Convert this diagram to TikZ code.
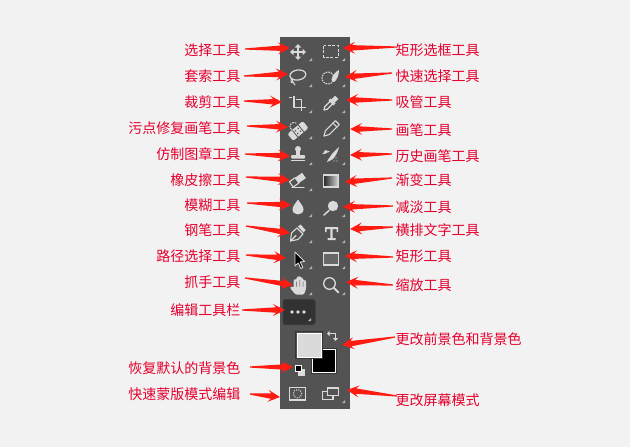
\documentclass[tikz,border=0pt]{standalone}
\usepackage{fontspec}
\newfontfamily\cjk{Noto Sans CJK SC}
\usetikzlibrary{calc}
\definecolor{pagebg}{HTML}{F2F2F2}
\definecolor{barbg}{HTML}{535353}
\definecolor{ico}{HTML}{DADADA}
\definecolor{labred}{HTML}{E5002D}
\definecolor{arrred}{HTML}{FF1A12}
\definecolor{cornertri}{HTML}{B4B4B4}
\tikzset{
  lab/.style={inner sep=0pt,text=labred,font=\cjk\fontsize{14}{14}\selectfont},
  labl/.style={lab,anchor=east},
  labr/.style={lab,anchor=west},
  arrowshape/.style={fill=arrred,draw=none},
  icl/.style={draw=ico,line width=1.2pt,line join=round,line cap=round,fill=none}
}
\newcommand{\conn}[3]{%
  \coordinate (#1-t) at (#2);\coordinate (#1-h) at (#3);
  \fill[arrowshape] ($(#1-t)!0.6pt!-90:(#1-h)$)
   -- ($(#1-h)!9pt!(#1-t)!2.7pt!90:(#1-t)$)
   -- ($(#1-h)!12pt!(#1-t)!6pt!90:(#1-t)$)
   -- (#1-h)
   -- ($(#1-h)!12pt!(#1-t)!6pt!-90:(#1-t)$)
   -- ($(#1-h)!9pt!(#1-t)!2.7pt!-90:(#1-t)$)
   -- ($(#1-t)!0.6pt!90:(#1-h)$)
   -- cycle;}
\begin{document}
\begin{tikzpicture}[x=1pt,y=-1pt]
\useasboundingbox (0,0) rectangle (630,447);
\fill[pagebg] (0,0) rectangle (630,447);
\fill[barbg] (280,37) rectangle (350,409);

% corner triangles
\foreach \yy in {58,84,110,136,162,188,214,240,266,292}{
  \fill[cornertri] (312,\yy) -- (312,\yy+3.2) -- (308.8,\yy+3.2) -- cycle;}
\foreach \yy in {58,84,110,136,162,214,240,266,292}{
  \fill[cornertri] (345,\yy) -- (345,\yy+3.2) -- (341.8,\yy+3.2) -- cycle;}

% move
\begin{scope}[shift={(298,52)}]
 \draw[icl,line width=1.4pt] (-6,0)--(6,0) (0,-6)--(0,6);
 \fill[ico] (-8,0)--(-4.5,-3.2)--(-4.5,3.2)--cycle (8,0)--(4.5,-3.2)--(4.5,3.2)--cycle
   (0,-8)--(-3.2,-4.5)--(3.2,-4.5)--cycle (0,8)--(-3.2,4.5)--(3.2,4.5)--cycle;
\end{scope}
% marquee
\draw[icl,line width=1.2pt,dash pattern=on 3pt off 1.7pt,line cap=butt] (323.5,45.5) rectangle (338.5,57.5);
% lasso
\begin{scope}[shift={(298,76)}]
 \draw[icl,rotate=8] (0,-1) ellipse [x radius=8pt,y radius=5pt];
 \draw[icl,line width=1pt] (-6,3) .. controls (-6,7) and (-3,7) .. (-3,9);
 \draw[icl,line width=1pt] (-6,2) .. controls (-8,5) and (-7,8) .. (-5,6);
\end{scope}
% quick select
\begin{scope}[shift={(331,77)}]
 \draw[icl,line width=1.1pt,dash pattern=on 1pt off 1.6pt] (-3,1) circle [radius=6pt];
 \fill[ico] (0.5,2.5) .. controls (1,-1) and (5,-6) .. (8,-7) .. controls (8,-2) and (6,3) .. (3,5) .. controls (1.5,5) and (0,4) .. (0.5,2.5) -- cycle;
\end{scope}
% crop
\draw[icl,line width=1.7pt,line cap=butt] (289,97.5) -- (291.5,97.5) (294,96) -- (294,107.5) -- (306,107.5) (301.5,111) -- (301.5,99.5) -- (296,99.5);
% eyedropper
\begin{scope}[shift={(331,103)},rotate=45]
 \draw[icl,line width=1.2pt] (-10,0) -- (-7,-1.8) -- (1,-1.8) -- (1,1.8) -- (-7,1.8) -- cycle;
 \fill[ico] (0,-3.5) rectangle (3,3.5);
 \fill[ico] (3,-2.3) rectangle (8,2.3);
\end{scope}
% healing
\begin{scope}[shift={(298,131)},rotate=40]
 \fill[ico] (-10,-4.5) [rounded corners=1.5pt] rectangle (10,4.5);
 \fill[barbg] (-4.4,-5) rectangle (-3.6,5) (3.6,-5) rectangle (4.4,5);
 \foreach \a in {-1.8,1.8}\foreach \b in {-1.8,1.8}\fill[barbg] (\a,\b) circle [radius=0.95pt];
\end{scope}
\draw[icl,line width=1.1pt,dash pattern=on 1pt off 1.6pt] (296,123) arc[start angle=60,end angle=250,radius=4pt];
% pencil
\begin{scope}[shift={(331,129)},rotate=45]
 \draw[icl,line width=1.1pt] (-10,0) -- (-5,-2.8) -- (9,-2.8) -- (9,2.8) -- (-5,2.8) -- cycle;
 \draw[icl,line width=1.1pt] (5.5,-2.8) -- (5.5,2.8);
\end{scope}
% stamp
\begin{scope}[shift={(298,155)}]
 \fill[ico] (0,-6) circle [radius=3pt];
 \fill[ico] (-1.7,-5) rectangle (1.7,0);
 \fill[ico] (-7,0) [rounded corners=1pt] rectangle (7,3.5);
 \fill[ico] (-7,5) rectangle (7,6.2);
\end{scope}
% history brush
\begin{scope}[shift={(331,155)}]
 \fill[ico] (-1,2) .. controls (1,-2) and (5,-5) .. (8,-8) .. controls (7,-3) and (4,2) .. (2,4) .. controls (0,6) and (-3,6) .. (-4,7) .. controls (-4,5) and (-2,4) .. (-1,2) -- cycle;
 \draw[icl,line width=1.1pt] (-8,-1.5) -- (-2,-3.5);
 \fill[ico] (-7.5,-1.5) -- (-6,-5) -- (-3,-4) -- (-5,-1.5) -- cycle;
 \fill[ico] (5,3) circle [radius=0.7pt] (3,6) circle [radius=0.7pt] (6,6) circle [radius=0.7pt];
\end{scope}
% eraser
\begin{scope}[shift={(298,180)}]
 \begin{scope}[rotate=35]
  \fill[ico] (-1,-3.5) rectangle (7.5,3);
  \draw[icl,line width=1.1pt] (-8,-3.5) rectangle (-1,3);
 \end{scope}
 \draw[icl,line width=1.1pt] (-6,7.5) -- (6,7.5);
\end{scope}
% gradient
\shade[left color=black!85,right color=ico,draw=none] (323.5,175) rectangle (338.5,187);
\draw[ico,line width=1.2pt] (323.5,175) rectangle (338.5,187);
% drop
\fill[ico] (298,199.5) .. controls (296,203) and (292.5,206) .. (292.5,209.5) .. controls (292.5,216) and (303.5,216) .. (303.5,209.5) .. controls (303.5,206) and (300,203) .. (298,199.5) -- cycle;
% dodge
\fill[ico] (333,206) circle [radius=5.2pt];
\draw[icl,line width=1.5pt] (329,210.5) -- (324,215);
% pen
\begin{scope}[shift={(298,233)}]
 \draw[icl,line width=1.1pt] (-7.5,8) -- (-6.5,0) -- (-1,-5) -- (5,1) -- (0,6.5) -- cycle;
 \draw[icl,line width=1.1pt] (-7.5,8) -- (-2,2.5);
 \fill[ico] (0,-6.5) -- (2.5,-8.5) -- (7.5,-3) -- (5.5,-0.5) -- cycle;
\end{scope}
% type
\fill[ico] (325,227) rectangle (338,229) (330.3,228) rectangle (332.7,239) (327.5,238) rectangle (335.5,240)
  (325,227) rectangle (326.5,232) (336.5,227) rectangle (338,232);
% select arrow
\draw[ico,fill=black,line width=0.9pt,line join=round] (295,252) -- (295,266) -- (298.2,263) -- (300.8,268.5) -- (302.8,267.5) -- (300.3,262) -- (304.5,261.5) -- cycle;
% rect
\draw[ico,fill=barbg!85!ico,line width=1.2pt] (323.5,253) rectangle (338.5,265);
% hand
\begin{scope}[shift={(299,285)}]
 \fill[ico,rounded corners=1.2pt] (-3.5,9.5) -- (-9,3) -- (-8,1) -- (-5.3,3) -- (-5.5,-5) -- (-3.8,-6) -- (-2.5,-5) -- (-2.4,-8) -- (-0.4,-9) -- (1,-8) -- (1.2,-7.5) -- (2.8,-7.5) -- (4,-6.5) -- (4.2,-4.5) -- (6,-5) -- (7.2,-4) -- (7,4) -- (5,9.5) -- cycle;
 \fill[barbg] (-2.9,-3.5) rectangle (-2.3,1.5) (0.5,-5) rectangle (1.1,1.5) (3.8,-3.5) rectangle (4.4,1.5);
\end{scope}
% zoom
\draw[icl,line width=1.3pt] (329.5,283.5) circle [radius=5.8pt];
\draw[icl,line width=2pt] (334,288) -- (338.5,292.5);
% edit toolbar
\draw[fill=barbg!60!black,draw=barbg!70!black,rounded corners=2.5pt,line width=1pt] (283,299.5) rectangle (315,324.5);
\foreach \xx in {292,298,304}\fill[ico] (\xx,312) circle [radius=1.9pt];
\fill[cornertri] (311,318) -- (311,321.2) -- (307.8,321.2) -- cycle;
% swap
\draw[ico,line width=1.1pt] (329,333.5) -- (335.5,333.5) -- (335.5,339);
\fill[ico] (329.5,331) -- (329.5,336) -- (327,333.5) -- cycle (333,338) -- (338,338) -- (335.5,341) -- cycle;
% swatches
\draw[fill=black,draw=white,line width=1pt] (312.5,349.5) rectangle (335.5,372.5);
\draw[barbg!65!black,line width=0.6pt] (311.4,348.4) rectangle (336.6,373.6);
\draw[barbg!65!black,line width=0.6pt] (295.4,331.4) rectangle (322.6,358.6);
\draw[fill=ico,draw=white,line width=1pt] (297,333) rectangle (321,357);
% default colours
\fill[ico] (298,368.5) rectangle (305,375.5);
\draw[fill=black,draw=white,line width=0.8pt] (295.5,365.5) rectangle (301.5,371.5);
% quick mask
\draw[ico,line width=1.1pt] (289.5,387.5) rectangle (305.5,400);
\draw[ico,line width=1.1pt,dash pattern=on 1pt off 1.3pt] (297.5,393.7) circle [radius=4.2pt];
% screen mode
\draw[ico,line width=1.1pt] (322.5,391.5) rectangle (333,399.5);
\draw[ico,fill=barbg,line width=1.1pt] (327.5,388) rectangle (338.5,395.5);
\fill[cornertri] (345,400) -- (345,403.2) -- (341.8,403.2) -- cycle;

% left labels
\node[labl] (l1) at (240.5,50) {选择工具};
\node[labl] (l2) at (240.5,76) {套索工具};
\node[labl] (l3) at (240.5,102) {裁剪工具};
\node[labl] (l4) at (240.5,128) {污点修复画笔工具};
\node[labl] (l5) at (240.5,154) {仿制图章工具};
\node[labl] (l6) at (240.5,180) {橡皮擦工具};
\node[labl] (l7) at (240.5,205) {模糊工具};
\node[labl] (l8) at (240.5,230) {钢笔工具};
\node[labl] (l9) at (240.5,256) {路径选择工具};
\node[labl] (l10) at (240.5,282) {抓手工具};
\node[labl] (l11) at (240.5,310) {编辑工具栏};
\node[labl] (l12) at (240.5,368) {恢复默认的背景色};
\node[labl] (l13) at (240.5,394) {快速蒙版模式编辑};
% right labels
\node[labr] (r1) at (395.5,50) {矩形选框工具};
\node[labr] (r2) at (395.5,76) {快速选择工具};
\node[labr] (r3) at (395.5,102) {吸管工具};
\node[labr] (r4) at (395.5,130) {画笔工具};
\node[labr] (r5) at (395.5,156) {历史画笔工具};
\node[labr] (r6) at (395.5,180) {渐变工具};
\node[labr] (r7) at (395.5,207) {减淡工具};
\node[labr] (r8) at (395.5,230) {横排文字工具};
\node[labr] (r9) at (395.5,256) {矩形工具};
\node[labr] (r10) at (395.5,285) {缩放工具};
\node[labr] (r11) at (395.5,339) {更改前景色和背景色};
\node[labr] (r12) at (395.5,400) {更改屏幕模式};

% connectors
\conn{al1}{245,49}{290,48}
\conn{al2}{244,76}{288,74}
\conn{al3}{244,101}{282,102}
\conn{al4}{247,126}{288,127}
\conn{al5}{245,154}{290,156}
\conn{al6}{246,177}{290,180}
\conn{al7}{247,203}{291,205}
\conn{al8}{246,226}{290,233}
\conn{al9}{246,255}{286,258}
\conn{al10}{245,278}{293,285}
\conn{al11}{242,310}{285,310}
\conn{al12}{250,367}{293,367}
\conn{al13}{250,394}{280,397}
\conn{ar1}{396,47}{343,48}
\conn{ar2}{392,73}{345,77}
\conn{ar3}{392,100}{346,100}
\conn{ar4}{392,129}{350,129}
\conn{ar5}{392,154}{350,155}
\conn{ar6}{392,178}{345,182}
\conn{ar7}{393,206}{343,207}
\conn{ar8}{393,227}{350,229}
\conn{ar9}{393,257}{345,256}
\conn{ar10}{393,285}{346,282}
\conn{ar11}{395,337}{342,345}
\conn{ar12}{397,396}{347,390}
\end{tikzpicture}
\end{document}
